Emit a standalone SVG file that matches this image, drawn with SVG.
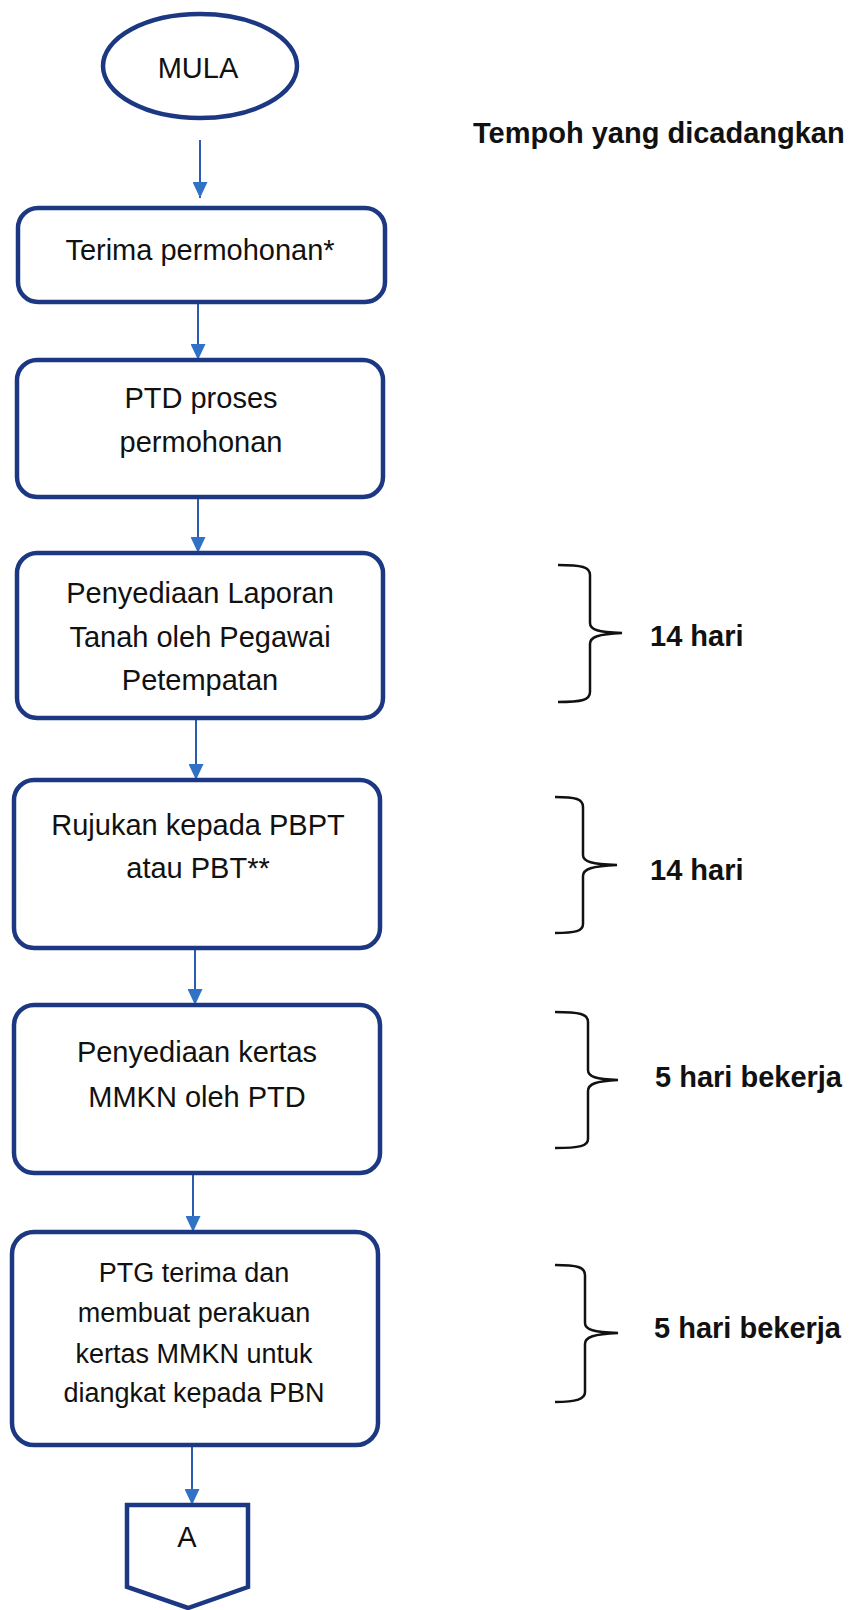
<svg xmlns="http://www.w3.org/2000/svg" width="866" height="1610" viewBox="0 0 866 1610">
<style>
.node{fill:#fff;stroke:#1d3883;stroke-width:4.5}
.t{font-family:"Liberation Sans",Arial,sans-serif;font-size:29px;fill:#111;text-anchor:middle}
.t6{font-family:"Liberation Sans",Arial,sans-serif;font-size:27px;fill:#111;text-anchor:middle}
.b{font-family:"Liberation Sans",Arial,sans-serif;font-size:29px;font-weight:bold;fill:#111}
.conn{stroke:#2a5cb0;stroke-width:2;fill:none;marker-end:url(#ah)}
.brace{stroke:#111;stroke-width:2.5;fill:none}
</style>
<defs>
<marker id="ah" markerUnits="userSpaceOnUse" markerWidth="16" markerHeight="15" refX="16" refY="7.5" orient="auto" viewBox="0 0 16 15">
<path d="M0,0 L16,7.5 L0,15 Z" fill="#2f72c6"/>
</marker>
</defs>
<rect width="866" height="1610" fill="#fff"/>
<g id="connectors">
<path class="conn" d="M200,140 V198"/>
<path class="conn" d="M198,302 V360"/>
<path class="conn" d="M198,497 V553"/>
<path class="conn" d="M196,720 V780"/>
<path class="conn" d="M195,948 V1005"/>
<path class="conn" d="M193,1173 V1232"/>
<path class="conn" d="M192,1445 V1505"/>
</g>
<g id="mula">
<ellipse class="node" cx="200" cy="66" rx="97" ry="52"/>
<text class="t" x="198" y="78">MULA</text>
</g>
<g id="terima">
<rect class="node" x="18" y="208" width="367" height="94" rx="20"/>
<text class="t" x="200" y="260">Terima permohonan*</text>
</g>
<g id="ptd-proses">
<rect class="node" x="17" y="360" width="366" height="137" rx="20"/>
<text class="t" x="201" y="408">PTD proses</text>
<text class="t" x="201" y="452">permohonan</text>
</g>
<g id="laporan">
<rect class="node" x="17" y="553" width="366" height="165" rx="20"/>
<text class="t" x="200" y="603">Penyediaan Laporan</text>
<text class="t" x="200" y="647">Tanah oleh Pegawai</text>
<text class="t" x="200" y="690">Petempatan</text>
</g>
<g id="rujukan">
<rect class="node" x="14" y="780" width="366" height="168" rx="20"/>
<text class="t" x="198" y="835">Rujukan kepada PBPT</text>
<text class="t" x="198" y="878">atau PBT**</text>
</g>
<g id="kertas">
<rect class="node" x="14" y="1005" width="366" height="168" rx="20"/>
<text class="t" x="197" y="1062">Penyediaan kertas</text>
<text class="t" x="197" y="1107">MMKN oleh PTD</text>
</g>
<g id="ptg">
<rect class="node" x="12" y="1232" width="366" height="213" rx="22"/>
<text class="t6" x="194" y="1282">PTG terima dan</text>
<text class="t6" x="194" y="1322">membuat perakuan</text>
<text class="t6" x="194" y="1363">kertas MMKN untuk</text>
<text class="t6" x="194" y="1402">diangkat kepada PBN</text>
</g>
<g id="offpage-a">
<polygon class="node" points="127,1505 248,1505 248,1587 188,1608 127,1587"/>
<text class="t" x="187" y="1547">A</text>
</g>
<g id="tempoh">
<text class="b" x="473" y="143">Tempoh yang dicadangkan</text>
</g>
<g id="brace1">
<path class="brace" d="M558,565 C582,565 590,567 590,575 L590,623 C590,630 598,632 622,633 C598,634 590,637 590,644 L590,692 C590,700 582,702 558,702"/>
<text class="b" x="650" y="646">14 hari</text>
</g>
<g id="brace2">
<path class="brace" d="M555,797 C576,797 583,799 583,807 L583,855 C583,862 592,864 617,865 C592,866 583,869 583,876 L583,924 C583,931 576,933 555,933"/>
<text class="b" x="650" y="880">14 hari</text>
</g>
<g id="brace3">
<path class="brace" d="M555,1012 C580,1012 588,1014 588,1022 L588,1070 C588,1077 596,1079 618,1080 C596,1081 588,1084 588,1091 L588,1139 C588,1146 580,1148 555,1148"/>
<text class="b" x="655" y="1087">5 hari bekerja</text>
</g>
<g id="brace4">
<path class="brace" d="M555,1265 C577,1265 585,1267 585,1275 L585,1323 C585,1330 594,1332 618,1333 C594,1334 585,1337 585,1344 L585,1392 C585,1399 577,1402 555,1402"/>
<text class="b" x="654" y="1338">5 hari bekerja</text>
</g>
</svg>
